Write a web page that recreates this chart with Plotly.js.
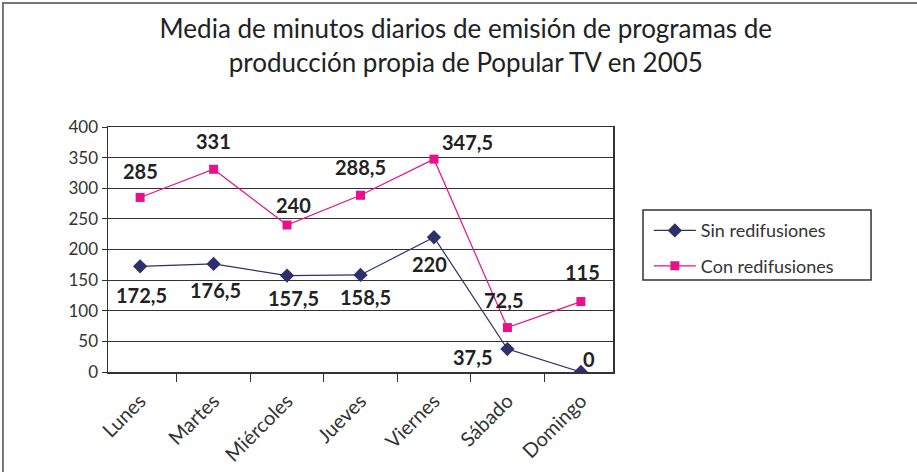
<!DOCTYPE html>
<html>
<head>
<meta charset="utf-8">
<script src="https://cdn.plot.ly/plotly-3.0.1.min.js"></script>
<style>html,body{margin:0;padding:0;background:#fff;}#chart{width:917px;height:472px;}</style>
</head>
<body>
<div id="chart"></div>
<script>
const categories = ["Lunes","Martes","Miércoles","Jueves","Viernes","Sábado","Domingo"];
const sinRedifusiones = [172.5,176.5,157.5,158.5,220,37.5,0];
const conRedifusiones = [285,331,240,288.5,347.5,72.5,115];
const seriesNames = ["Sin redifusiones","Con redifusiones"];
const chartTitle = "Media de minutos diarios de emisión de programas de<br>producción propia de Popular TV en 2005";

// label pixel offsets (layout only)
const sinOffsets = [[1,-29],[2,-26],[6,-22],[5,-22],[-4,-27],[-35,-8],[8,13]];
const conOffsets = [[0,26],[0,28],[6,20],[0,28],[34,17],[-4,28],[2,30]];

const fmt = v => String(v).replace('.', ',');
const FONT = "Lato, 'DejaVu Sans', sans-serif";
const SIN_COLOR = "#2f2f6b";
const CON_COLOR = "#e8118a";

const traces = [
  {x: categories, y: sinRedifusiones, name: seriesNames[0], legendgroup: "a", type: "scatter", mode: "lines+markers",
   line: {color: SIN_COLOR, width: 1.2}, marker: {symbol: "diamond", size: 11, color: SIN_COLOR}, hoverinfo: "skip"},
  {x: categories, y: conRedifusiones, name: seriesNames[1], legendgroup: "b", type: "scatter", mode: "lines+markers",
   line: {color: CON_COLOR, width: 1.2}, marker: {symbol: "square", size: 9, color: CON_COLOR}, hoverinfo: "skip"}
];

const annotations = [];
categories.forEach((c, i) => {
  annotations.push({x: c, y: sinRedifusiones[i], xref: "x", yref: "y", text: fmt(sinRedifusiones[i]),
    showarrow: false, xshift: sinOffsets[i][0], yshift: sinOffsets[i][1],
    font: {family: FONT, size: 20, color: "#222", weight: "bold"}});
  annotations.push({x: c, y: conRedifusiones[i], xref: "x", yref: "y", text: fmt(conRedifusiones[i]),
    showarrow: false, xshift: conOffsets[i][0], yshift: conOffsets[i][1],
    font: {family: FONT, size: 20, color: "#222", weight: "bold"}});
});

const layout = {
  width: 917, height: 472,
  margin: {l: 108, r: 304, t: 127, b: 100, pad: 0},
  paper_bgcolor: "#fff", plot_bgcolor: "#fff",
  font: {family: FONT, color: "#222"},
  title: {text: chartTitle, x: 0.508, xref: "container", y: 0.92, yref: "container", yanchor: "middle",
          font: {family: FONT, size: 26, color: "#222"}},
  showlegend: true,
  legend: {x: 1.071, xanchor: "left", y: 0.652, yanchor: "top", borderwidth: 0,
           bgcolor: "rgba(0,0,0,0)", font: {family: FONT, size: 18, color: "#333"}, tracegroupgap: 9,
           itemwidth: 42},
  xaxis: {type: "category", showline: true, linecolor: "#333", linewidth: 1.5, mirror: true,
          ticks: "outside", ticklen: 8, tickcolor: "#333", tickson: "boundaries", tickangle: -45,
          ticklabelstandoff: 8,
          tickfont: {family: FONT, size: 20, color: "#333"}, showgrid: false, zeroline: false, fixedrange: true},
  yaxis: {range: [0, 400], dtick: 50, showline: true, linecolor: "#333", linewidth: 1.5, mirror: true,
          ticks: "outside", ticklen: 5, tickcolor: "#333", gridcolor: "#333", gridwidth: 1,
          tickfont: {family: FONT, size: 17, color: "#333"}, zeroline: false, fixedrange: true},
  shapes: [
    {type: "rect", xref: "paper", yref: "paper", x0: -0.208, y0: -0.7, x1: 1.8, y1: 1.506,
     line: {color: "#777", width: 2}, fillcolor: "rgba(0,0,0,0)", layer: "below"},
    {type: "rect", xref: "paper", yref: "paper", x0: 1.0594, y0: 0.3755, x1: 1.511, y1: 0.661,
     line: {color: "#333", width: 1.5}, fillcolor: "rgba(0,0,0,0)", layer: "below"}
  ],
  annotations: annotations
};

Plotly.newPlot("chart", traces, layout, {displayModeBar: false, staticPlot: true});
</script>
</body>
</html>
